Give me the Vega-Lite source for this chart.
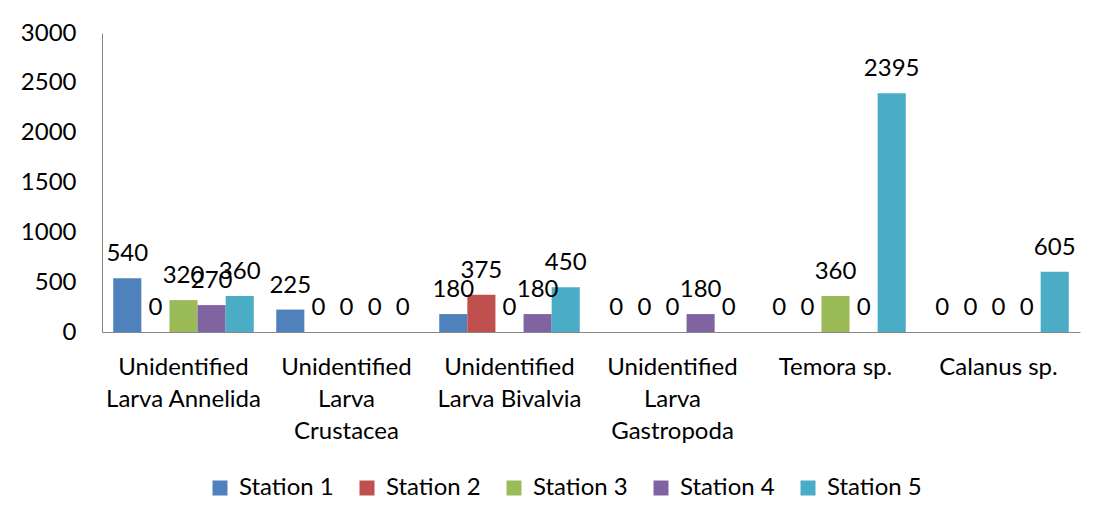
{
  "$schema": "https://vega.github.io/schema/vega-lite/v6.json",
  "autosize": "none",
  "width": 978,
  "height": 299,
  "padding": {"left": 102, "top": 33, "right": 18, "bottom": 192},
  "background": "white",
  "config": {
    "font": "Lato",
    "view": {"stroke": null},
    "axis": {"labelFont": "Lato", "labelFontSize": 24, "labelColor": "#000000", "domainColor": "#868686", "grid": false, "ticks": false, "title": null},
    "legend": {"labelFont": "Lato", "labelFontSize": 24, "labelColor": "#000000"}
  },
  "data": {
    "values": [
      {"category": "Unidentified Larva Annelida", "station": "Station 1", "value": 540},
      {"category": "Unidentified Larva Annelida", "station": "Station 2", "value": 0},
      {"category": "Unidentified Larva Annelida", "station": "Station 3", "value": 320},
      {"category": "Unidentified Larva Annelida", "station": "Station 4", "value": 270},
      {"category": "Unidentified Larva Annelida", "station": "Station 5", "value": 360},
      {"category": "Unidentified Larva Crustacea", "station": "Station 1", "value": 225},
      {"category": "Unidentified Larva Crustacea", "station": "Station 2", "value": 0},
      {"category": "Unidentified Larva Crustacea", "station": "Station 3", "value": 0},
      {"category": "Unidentified Larva Crustacea", "station": "Station 4", "value": 0},
      {"category": "Unidentified Larva Crustacea", "station": "Station 5", "value": 0},
      {"category": "Unidentified Larva Bivalvia", "station": "Station 1", "value": 180},
      {"category": "Unidentified Larva Bivalvia", "station": "Station 2", "value": 375},
      {"category": "Unidentified Larva Bivalvia", "station": "Station 3", "value": 0},
      {"category": "Unidentified Larva Bivalvia", "station": "Station 4", "value": 180},
      {"category": "Unidentified Larva Bivalvia", "station": "Station 5", "value": 450},
      {"category": "Unidentified Larva Gastropoda", "station": "Station 1", "value": 0},
      {"category": "Unidentified Larva Gastropoda", "station": "Station 2", "value": 0},
      {"category": "Unidentified Larva Gastropoda", "station": "Station 3", "value": 0},
      {"category": "Unidentified Larva Gastropoda", "station": "Station 4", "value": 180},
      {"category": "Unidentified Larva Gastropoda", "station": "Station 5", "value": 0},
      {"category": "Temora sp.", "station": "Station 1", "value": 0},
      {"category": "Temora sp.", "station": "Station 2", "value": 0},
      {"category": "Temora sp.", "station": "Station 3", "value": 360},
      {"category": "Temora sp.", "station": "Station 4", "value": 0},
      {"category": "Temora sp.", "station": "Station 5", "value": 2395},
      {"category": "Calanus sp.", "station": "Station 1", "value": 0},
      {"category": "Calanus sp.", "station": "Station 2", "value": 0},
      {"category": "Calanus sp.", "station": "Station 3", "value": 0},
      {"category": "Calanus sp.", "station": "Station 4", "value": 0},
      {"category": "Calanus sp.", "station": "Station 5", "value": 605}
    ]
  },
  "encoding": {
    "x": {
      "field": "category",
      "type": "nominal",
      "sort": null,
      "scale": {"paddingInner": 0, "paddingOuter": 0},
      "axis": {
        "labelAngle": 0,
        "labelPadding": 35,
        "labelLineHeight": 32,
        "labelFontSize": 24,
        "labelBaseline": "middle",
        "labelExpr": "datum.value == 'Unidentified Larva Annelida' ? ['Unidentified', 'Larva Annelida'] : datum.value == 'Unidentified Larva Crustacea' ? ['Unidentified', 'Larva', 'Crustacea'] : datum.value == 'Unidentified Larva Bivalvia' ? ['Unidentified', 'Larva Bivalvia'] : datum.value == 'Unidentified Larva Gastropoda' ? ['Unidentified', 'Larva', 'Gastropoda'] : datum.value"
      }
    },
    "xOffset": {
      "field": "station",
      "type": "nominal",
      "scale": {"paddingInner": 0, "paddingOuter": 0.4}
    },
    "y": {
      "field": "value",
      "type": "quantitative",
      "scale": {"domain": [0, 3000]},
      "axis": {"values": [0, 500, 1000, 1500, 2000, 2500, 3000], "format": "d", "labelPadding": 26, "labelFontSize": 24, "domain": true}
    }
  },
  "layer": [
    {
      "mark": {"type": "bar"},
      "encoding": {
        "color": {
          "field": "station",
          "type": "nominal",
          "scale": {"domain": ["Station 1", "Station 2", "Station 3", "Station 4", "Station 5"], "range": ["#4F81BD", "#C0504D", "#9BBB59", "#8064A2", "#4BACC6"]},
          "legend": {
            "orient": "none",
            "legendX": 106,
            "legendY": 443,
            "padding": 0,
            "direction": "horizontal",
            "title": null,
            "symbolType": "square",
            "symbolSize": 225,
            "symbolStrokeWidth": 0,
            "columnPadding": 21,
            "labelOffset": 7,
            "labelFontSize": 24,
            "labelLimit": 200
          }
        }
      }
    },
    {
      "mark": {"type": "text", "baseline": "alphabetic", "dy": -17, "fontSize": 24, "font": "Lato", "color": "#000000"},
      "encoding": {"text": {"field": "value", "type": "quantitative"}}
    }
  ]
}
